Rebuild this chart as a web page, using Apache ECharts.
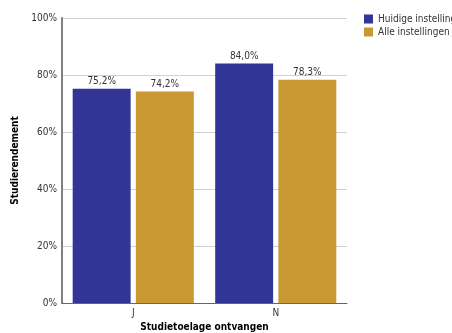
<!DOCTYPE html>
<html>
<head>
<meta charset="utf-8">
<script src="https://cdn.jsdelivr.net/npm/echarts@6/dist/echarts.min.js"></script>
<style>
  html, body { margin: 0; padding: 0; background: #fff; }
  #chart { width: 452px; height: 333px; }
</style>
</head>
<body>
<div id="chart"></div>
<script>
  const categories = ['J', 'N'];
  const seriesNames = ['Huidige instellingen', 'Alle instellingen'];
  const huidige = [0.752, 0.84];
  const alle = [0.742, 0.783];
  const colors = ['#313596', '#C99833'];

  const pct = (v, d) => (v * 100).toFixed(d).replace('.', ',') + '%';
  const font = '"DejaVu Sans Condensed", "DejaVu Sans", sans-serif';

  const chart = echarts.init(document.getElementById('chart'));
  chart.setOption({
    animation: false,
    textStyle: { fontFamily: font },
    grid: { left: 62, right: 105, top: 18, bottom: 30, outerBoundsMode: 'none', containLabel: false },
    legend: {
      orient: 'vertical',
      left: 364,
      top: 14,
      padding: 0,
      itemWidth: 9,
      itemHeight: 9,
      itemGap: 3,
      icon: 'rect',
      textStyle: { fontSize: 10, color: '#333', fontFamily: font },
      data: seriesNames,
    },
    xAxis: {
      type: 'category',
      data: categories,
      name: 'Studietoelage ontvangen',
      nameLocation: 'middle',
      nameGap: 18,
      nameTextStyle: { fontWeight: 'bold', fontSize: 10, color: '#000', fontFamily: font },
      axisLine: { lineStyle: { color: '#666', width: 1 } },
      axisTick: { show: false },
      axisLabel: { fontSize: 10, color: '#333', margin: 5 },
    },
    yAxis: {
      type: 'value',
      min: 0,
      max: 1,
      interval: 0.2,
      name: 'Studierendement',
      nameLocation: 'middle',
      nameGap: 38,
      nameTextStyle: { fontWeight: 'bold', fontSize: 10, color: '#000', fontFamily: font },
      axisLine: { show: true, lineStyle: { color: '#808080', width: 2 } },
      axisTick: { show: false },
      axisLabel: { fontSize: 10, color: '#333', margin: 5, formatter: (v) => Math.round(v * 100) + '%' },
      splitLine: { lineStyle: { color: '#d0d0d0', width: 1 } },
    },
    series: [
      {
        name: seriesNames[0],
        type: 'bar',
        data: huidige,
        itemStyle: { color: colors[0] },
        barGap: '9%',
        barCategoryGap: '15%',
        label: { show: true, position: 'top', distance: 2, fontSize: 10, color: '#333', formatter: (p) => pct(p.value, 1) },
      },
      {
        name: seriesNames[1],
        type: 'bar',
        data: alle,
        itemStyle: { color: colors[1] },
        barGap: '9%',
        barCategoryGap: '15%',
        label: { show: true, position: 'top', distance: 2, fontSize: 10, color: '#333', formatter: (p) => pct(p.value, 1) },
      },
    ],
  });
</script>
</body>
</html>
